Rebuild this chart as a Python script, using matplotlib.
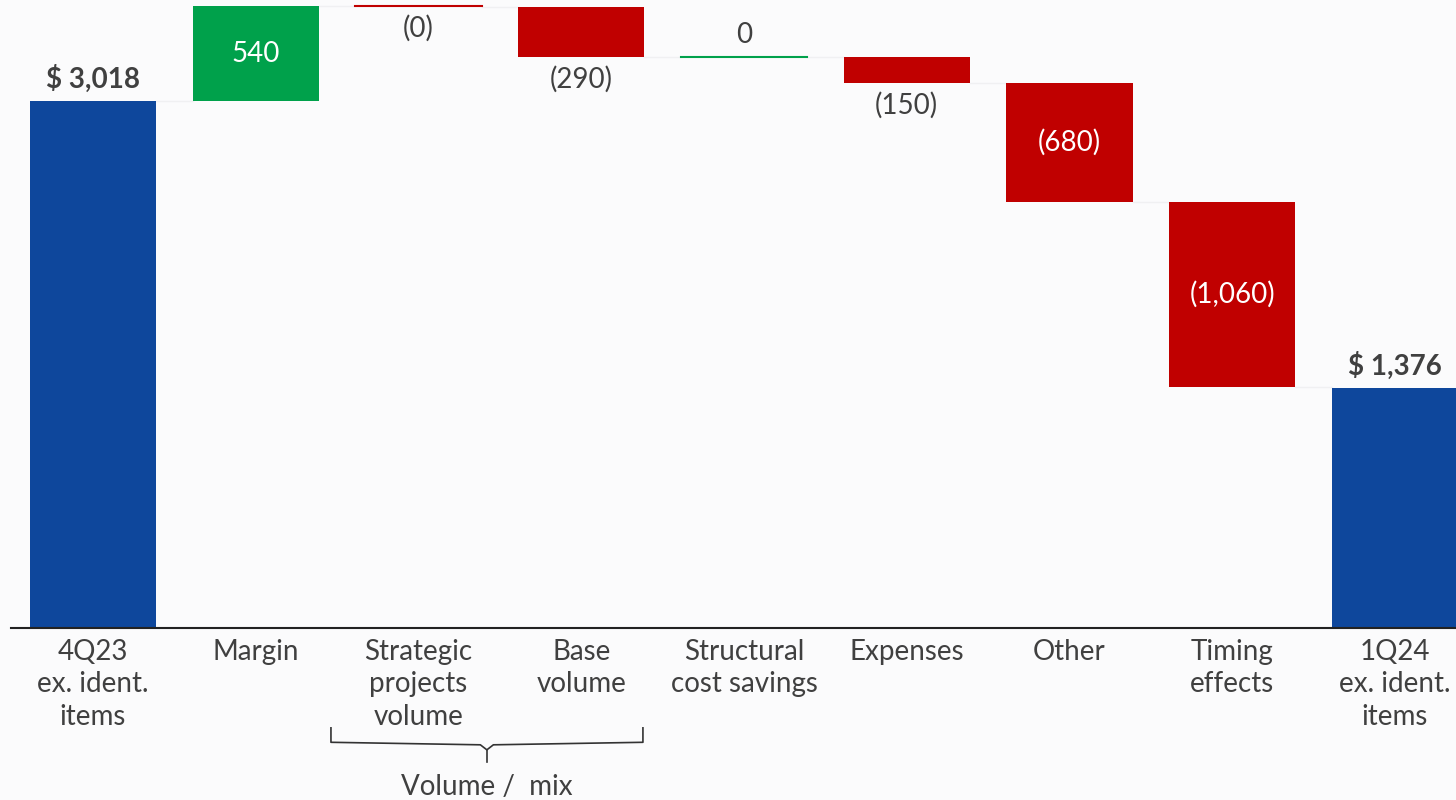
import numpy as np
import matplotlib
matplotlib.use("Agg")
import matplotlib.pyplot as plt

# data
categories = ["4Q23\nex. ident.\nitems", "Margin", "Strategic\nprojects\nvolume",
              "Base\nvolume", "Structural\ncost savings", "Expenses", "Other",
              "Timing\neffects", "1Q24\nex. ident.\nitems"]
start_value = 3018
changes = [540, -0.4, -290, 0.4, -150, -680, -1060]
change_labels = ["540", "(0)", "(290)", "0", "(150)", "(680)", "(1,060)"]
end_value = 1376

BLUE = "#0E479C"
GREEN = "#00A14B"
RED = "#C00000"
TXT = "#404040"

plt.rcParams['font.family'] = ['Lato', 'DejaVu Sans']

fig = plt.figure(figsize=(14.56, 8), dpi=100)
fig.patch.set_facecolor("#fbfbfc")
ax = fig.add_axes([11 / 1456, 172 / 800, 1 - 11 / 1456, 628 / 800])
ax.set_facecolor("none")

n = len(categories)
x = np.arange(n)
width = 0.775

# waterfall positions
bottoms = []
heights = []
running = start_value
for c in changes:
    if c >= 0:
        bottoms.append(running)
    else:
        bottoms.append(running + c)
    heights.append(abs(c))
    running += c

# totals
ax.bar(x[0], start_value, width=width, color=BLUE)
ax.bar(x[-1], end_value, width=width, color=BLUE)

levels = [start_value]
running = start_value
for i, c in enumerate(changes):
    xi = x[i + 1]
    col = GREEN if c >= 0 else RED
    if abs(c) < 5:
        ax.plot([xi - width / 2, xi + width / 2], [running, running], color=col, lw=1.5)
    else:
        ax.bar(xi, heights[i], bottom=bottoms[i], width=width, color=col)
    running += c
    levels.append(running)

# faint connector lines
for i in range(n - 1):
    ax.plot([x[i] + width / 2, x[i + 1] - width / 2], [levels[i], levels[i]],
            color="#f0f0f2", lw=1, zorder=0)

# total labels
for xi, v in [(x[0], start_value), (x[-1], end_value)]:
    ax.annotate("$ {:,}".format(v), (xi, v), xytext=(0, 16), textcoords="offset points",
                ha="center", va="center", fontsize=20, fontweight="bold", color=TXT)

# change labels
running = start_value
for i, c in enumerate(changes):
    xi = x[i + 1]
    lab = change_labels[i]
    top = running + max(c, 0)
    bot = running + min(c, 0)
    if heights[i] >= 300:
        ax.text(xi, (top + bot) / 2, lab, ha="center", va="center", fontsize=20, color="white")
    elif c > 0:
        ax.annotate(lab, (xi, top), xytext=(0, 16), textcoords="offset points",
                    ha="center", va="center", fontsize=20, color=TXT)
    else:
        ax.annotate(lab, (xi, bot), xytext=(0, -16), textcoords="offset points",
                    ha="center", va="center", fontsize=20, color=TXT)
    running += c

ax.set_xlim(-0.504, 8.375)
ax.set_ylim(0, 3595)
ax.set_xticks(x)
ax.set_xticklabels(categories, fontsize=20, color=TXT, linespacing=1.3)
ax.tick_params(axis="x", length=0, pad=8)
ax.set_yticks([])
for s in ["top", "right", "left"]:
    ax.spines[s].set_visible(False)
ax.spines["bottom"].set_color("#222222")
ax.spines["bottom"].set_linewidth(1.5)

# bracket for volume / mix
bx0, bx1, bmid = 1.462, 3.379, 2.42
y_top, y_bar, y_tip = -0.159, -0.186, -0.213
br = dict(color="#333333", lw=1.2, clip_on=False, transform=ax.get_xaxis_transform())
ax.plot([bx0, bx0, bmid - 0.04, bmid, bmid + 0.04, bx1, bx1],
        [y_top, y_bar + 0.004, y_bar, y_bar - 0.008, y_bar, y_bar + 0.004, y_top], **br)
ax.plot([bmid, bmid], [y_bar - 0.008, y_tip], **br)
ax.text(bmid, -0.253, "Volume /  mix", transform=ax.get_xaxis_transform(),
        ha="center", va="center", fontsize=20, color=TXT)

fig.savefig("out.png", dpi=100, facecolor=fig.get_facecolor())
